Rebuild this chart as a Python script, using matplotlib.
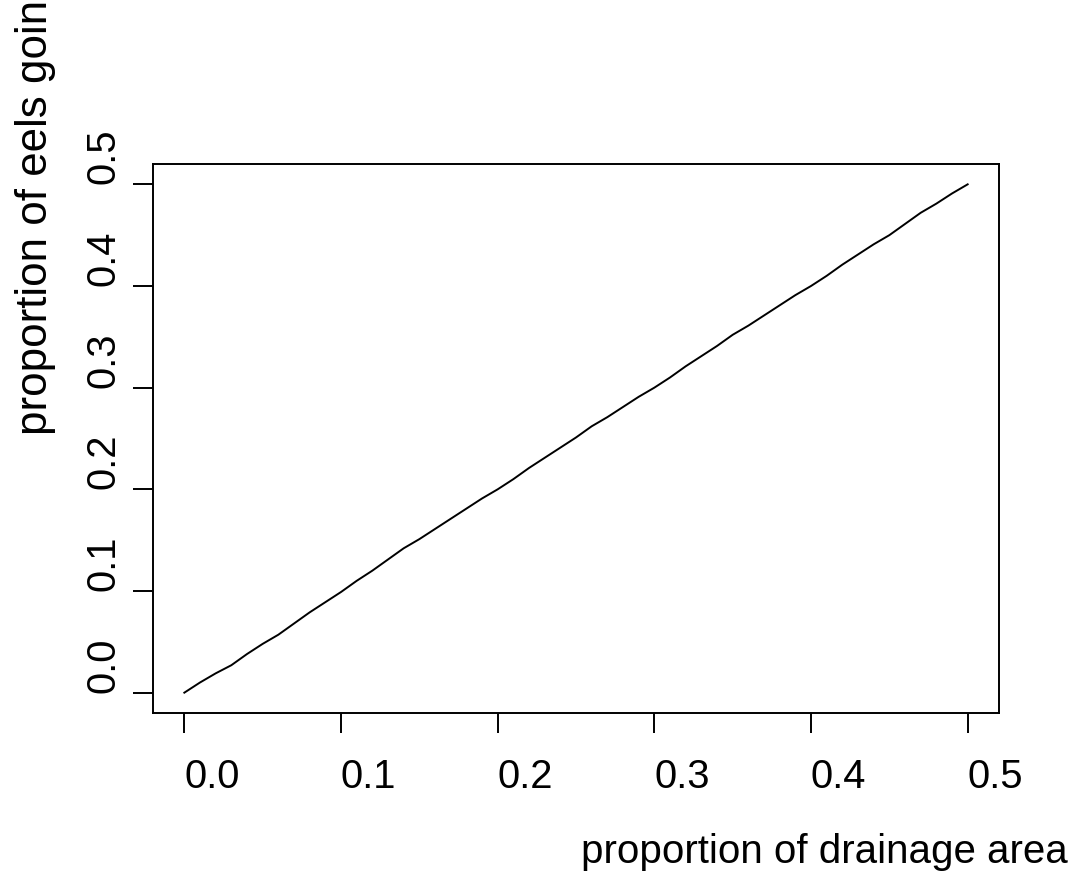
import matplotlib
matplotlib.use("Agg")
import matplotlib.pyplot as plt

# proportion of drainage area vs proportion of eels going
drainage = [0.00, 0.01, 0.02, 0.03, 0.04, 0.05, 0.06, 0.07, 0.08, 0.09,
            0.10, 0.11, 0.12, 0.13, 0.14, 0.15, 0.16, 0.17, 0.18, 0.19,
            0.20, 0.21, 0.22, 0.23, 0.24, 0.25, 0.26, 0.27, 0.28, 0.29,
            0.30, 0.31, 0.32, 0.33, 0.34, 0.35, 0.36, 0.37, 0.38, 0.39,
            0.40, 0.41, 0.42, 0.43, 0.44, 0.45, 0.46, 0.47, 0.48, 0.49,
            0.50]
eels = [0.000, 0.010, 0.019, 0.027, 0.038, 0.048, 0.057, 0.068, 0.079, 0.089,
        0.099, 0.110, 0.120, 0.131, 0.142, 0.151, 0.161, 0.171, 0.181, 0.191,
        0.200, 0.210, 0.221, 0.231, 0.241, 0.251, 0.262, 0.271, 0.281, 0.291,
        0.300, 0.310, 0.321, 0.331, 0.341, 0.352, 0.361, 0.371, 0.381, 0.391,
        0.400, 0.410, 0.421, 0.431, 0.441, 0.450, 0.461, 0.472, 0.481, 0.491,
        0.500]
ticks = [0.0, 0.1, 0.2, 0.3, 0.4, 0.5]
tick_labels = ["0.0", "0.1", "0.2", "0.3", "0.4", "0.5"]

plt.rcParams['font.family'] = ['Liberation Sans', 'DejaVu Sans']
fs = 28.8

W, H = 1074, 875
fig = plt.figure(figsize=(W / 100, H / 100), dpi=100)
# box in pixels: left 153, right 999, top 164, bottom 713
ax = fig.add_axes([153 / W, (H - 713) / H, (999 - 153) / W, (713 - 164) / H])

ax.plot(drainage, eels, color='black', linewidth=1.4)

ax.set_xlim(-0.02, 0.52)
ax.set_ylim(-0.02, 0.52)

# labels start at the tick (as in the original), not centred on it
ax.set_xticks(ticks)
ax.set_xticklabels(tick_labels, fontsize=fs, ha='left')
ax.set_yticks(ticks)
ax.set_yticklabels(tick_labels, fontsize=fs, rotation=90,
                   rotation_mode='anchor', ha='left', va='baseline')

for s in ax.spines.values():
	s.set_linewidth(1.4)

ax.tick_params(axis='x', length=14.4, width=1.4, pad=18, direction='out')
ax.tick_params(axis='y', length=14.4, width=1.4, pad=13.5, direction='out')

fig.text(581 / W, (H - 863) / H, "proportion of drainage area",
         fontsize=29, ha='left', va='baseline')
# label runs off the top edge, as in the original
fig.text(47 / W, (H - 435) / H, "proportion of eels going to",
         fontsize=31.6, rotation=90, ha='left', va='baseline',
         rotation_mode='anchor')

plt.savefig("out.png", dpi=100)
